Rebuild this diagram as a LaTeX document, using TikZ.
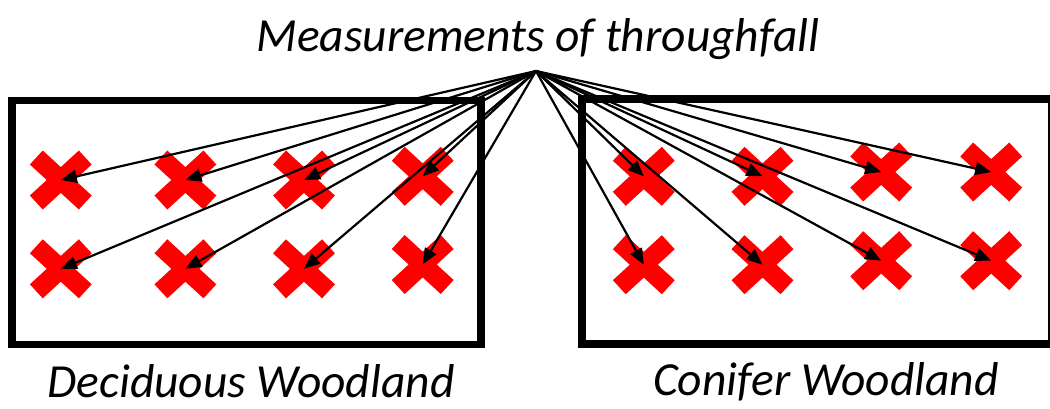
\documentclass[tikz,border=0pt]{standalone}
\usepackage{fontspec}
\setmainfont{Carlito}
\usetikzlibrary{shapes.misc,arrows.meta}
\tikzset{
  frame/.style={draw=black, line width=7.5pt, fill=none, inner sep=0pt},
  xmark/.style={cross out, draw=red, line width=19pt, minimum width=49pt, minimum height=45pt, inner sep=0pt, outer sep=0pt},
  arr/.style={draw=black, line width=2.2pt, -{Triangle[length=16pt,width=13pt]}},
  lbl/.style={anchor=base, inner sep=0pt, font=\fontsize{47.5}{52}\selectfont\itshape},
}
\begin{document}
\begin{tikzpicture}[x=1pt,y=-1pt]
\clip (0,0) rectangle (1050,408);
\useasboundingbox (0,0) rectangle (1050,408);
% frames
\draw[frame] (12.2,100.3) rectangle (481.2,344.5);
\draw[frame] (582,99) rectangle (1052,344.2);
% texts
\node[lbl] (title) at (538,51) {Measurements of throughfall};
\node[lbl] (decid) at (251,397.5) {Deciduous Woodland};
\node[lbl] (conif) at (826,395) {Conifer Woodland};
% source
\coordinate (src) at (536,71);
% deciduous crosses
\node[xmark] (d11) at (60.8,180) {};
\node[xmark] (d12) at (185.4,180) {};
\node[xmark] (d13) at (304,180) {};
\node[xmark] (d14) at (422.7,176.3) {};
\node[xmark] (d21) at (60.8,268.8) {};
\node[xmark] (d22) at (185.4,268.8) {};
\node[xmark] (d23) at (304,268.8) {};
\node[xmark] (d24) at (422.7,264.5) {};
% conifer crosses
\node[xmark] (c11) at (643.8,176.3) {};
\node[xmark] (c12) at (762.5,176.3) {};
\node[xmark] (c13) at (881.2,172) {};
\node[xmark] (c14) at (991.2,172) {};
\node[xmark] (c21) at (643.8,264.7) {};
\node[xmark] (c22) at (762.5,264.7) {};
\node[xmark] (c23) at (881.2,260.7) {};
\node[xmark] (c24) at (991.2,260.7) {};
% arrows
\foreach \n in {d11,d12,d13,d14,d21,d22,d23,d24,c11,c12,c13,c14,c21,c22,c23,c24}
  \draw[arr] (src) -- (\n.center);
\end{tikzpicture}
\end{document}
